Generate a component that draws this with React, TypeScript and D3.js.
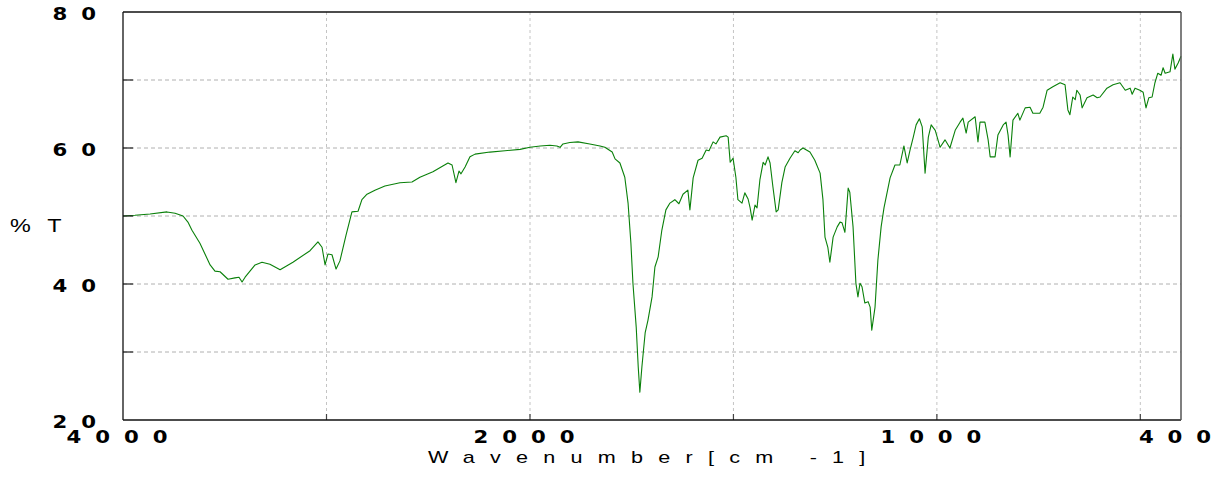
import React from 'react';
import * as d3 from 'd3';

// IR spectrum (wavenumber in cm-1, %T)
const wavenumbers = [
  4000, 3941, 3867, 3784, 3744, 3705, 3681, 3661, 3622, 3572, 3548, 3523, 3484, 3450, 3430, 3415, 3400,
  3351, 3317, 3278, 3228, 3165, 3081, 3042, 3022, 3007, 2993, 2973, 2953, 2934, 2904, 2875, 2845, 2826,
  2801, 2762, 2713, 2639, 2580, 2541, 2477, 2403, 2383, 2364, 2349, 2339, 2319, 2295, 2270, 2197, 2123,
  2049, 2000,
  1975, 1951, 1934, 1926, 1919, 1902, 1882, 1853, 1828, 1816, 1798, 1791, 1779, 1767, 1759, 1752, 1747,
  1739, 1734, 1730, 1725, 1717, 1710, 1700, 1693, 1685, 1676, 1666, 1656, 1644, 1634, 1624, 1612, 1607,
  1599, 1587, 1577, 1567, 1560, 1550, 1543, 1533, 1518, 1513, 1508, 1501, 1494, 1489, 1479, 1472, 1464,
  1459, 1454, 1447, 1442, 1435, 1427, 1422, 1415, 1410, 1403, 1395, 1390, 1381, 1373, 1361, 1349, 1341,
  1336, 1329, 1312, 1300, 1287, 1280, 1275, 1268, 1263, 1255, 1245, 1238, 1233, 1226, 1218, 1214, 1206,
  1199, 1194, 1189, 1184, 1177, 1169, 1164, 1160, 1152, 1145, 1137, 1130, 1115, 1103, 1091, 1081, 1073,
  1066, 1058, 1051, 1043, 1036, 1029, 1021, 1014, 1004, 992, 980, 968, 955, 943, 936, 928, 923, 906, 899,
  894, 882, 874, 869, 857, 850, 837, 830, 825, 820, 813, 801, 796, 783, 771, 764, 747, 739, 729, 715, 697,
  685, 678, 673, 666, 660, 656, 648, 643, 631, 616, 606, 599, 582, 567, 550, 537, 525, 520, 513, 501, 493,
  486, 479, 471, 464, 457, 449, 444, 439, 427, 420, 415, 407, 400,
];
const transmittance = [
  50.0, 50.1, 50.3, 50.6, 50.4, 50.0, 49.1, 47.9, 46.0, 42.8, 41.9, 41.8, 40.7, 40.9, 41.0, 40.3, 41.0,
  42.8, 43.2, 42.9, 42.1, 43.2, 44.9, 46.2, 45.4, 42.8, 44.4, 44.3, 42.2, 43.4, 47.2, 50.6, 50.7, 52.4,
  53.2, 53.8, 54.4, 54.9, 55.0, 55.7, 56.5, 57.8, 57.5, 54.9, 56.6, 56.2, 57.2, 58.7, 59.1, 59.4, 59.6,
  59.8, 60.1,
  60.3, 60.4, 60.3, 60.1, 60.6, 60.8, 60.9, 60.6, 60.3, 60.1, 59.4, 58.4, 57.8, 55.7, 51.9, 46.0, 40.1,
  33.7, 27.8, 24.1, 27.8, 32.8, 34.7, 38.1, 42.5, 44.0, 47.9, 50.9, 51.9, 52.4, 51.8, 53.2, 53.8, 50.9,
  55.6, 58.2, 58.5, 59.7, 59.6, 60.9, 60.6, 61.6, 61.8, 61.6, 57.9, 58.5, 55.7, 52.4, 51.9, 53.4, 52.5,
  51.2, 49.4, 51.6, 51.2, 55.3, 57.9, 57.5, 58.7, 57.8, 54.3, 50.6, 50.9, 54.9, 57.2, 58.5, 59.6, 59.3,
  59.7, 60.0, 59.4, 58.2, 56.3, 52.4, 46.9, 45.4, 43.2, 46.9, 48.4, 49.1, 49.0, 47.6, 54.1, 53.5, 48.4,
  40.1, 38.1, 40.1, 39.6, 37.2, 37.4, 36.6, 33.2, 36.6, 43.5, 48.4, 51.2, 55.6, 57.5, 57.5, 60.3, 57.8,
  59.7, 61.6, 63.4, 64.3, 63.1, 56.3, 61.6, 63.4, 62.6, 60.1, 61.2, 60.0, 62.6, 63.8, 64.4, 62.2, 63.8, 64.6, 60.9,
  63.8, 63.8, 61.2, 58.7, 58.7, 61.9, 63.4, 63.8, 61.9, 58.7, 64.1, 65.1, 64.1, 65.9, 66.0, 65.1, 65.1, 66.0, 68.5, 69.0, 69.6,
  69.3, 65.6, 64.9, 67.5, 67.1, 68.5, 67.8, 65.9, 67.4, 67.8, 67.4, 67.5, 68.8, 69.3, 69.6, 68.5, 68.8, 67.9, 68.8, 68.5, 68.2,
  65.9, 67.4, 67.5, 69.6, 71.0, 70.7, 71.8, 71.0, 71.2, 73.8, 71.6, 72.5, 73.5,
];

const xTickLabels = [4000, 2000, 1000, 400];
const xGridValues = [3000, 2000, 1500, 1000, 500];
const yTickLabels = [80, 60, 40, 20];
const yGridValues = [70, 60, 50, 40, 30];
const xTitle = 'Wavenumber[cm -1]';
const yTitle = '% T';

const labelFont = "'DejaVu Sans', Verdana, sans-serif";
const titleFont = "'Liberation Sans', Arial, sans-serif";
const PITCH = 28.7;

// spaced bold digits, each glyph centred on its own cell
function SpacedLabel({ text, x0, y }: { text: string; x0: number; y: number }) {
  return (
    <g>
      {text.split('').map((ch, i) => (
        <text
          key={i}
          transform={`translate(${x0 + i * PITCH},${y}) scale(1.25,1)`}
          textAnchor="middle"
          fontFamily={labelFont}
          fontWeight="bold"
          fontSize={17}
          fill="#000"
        >
          {ch}
        </text>
      ))}
    </g>
  );
}

export default function App() {
  const W = 1217;
  const H = 478;
  const left = 123, right = 1181, top = 12, bottom = 420;

  // split (expanded below 2000 cm-1) wavenumber axis
  const x = d3.scaleLinear().domain([4000, 2000, 400]).range([left, 530, right]);
  const y = d3.scaleLinear().domain([20, 80]).range([bottom, top]);

  const points: [number, number][] = wavenumbers.map((w, i) => [w, transmittance[i]]);
  const line = d3
    .line<[number, number]>()
    .x((d) => x(d[0]))
    .y((d) => y(d[1]))
    .curve(d3.curveLinear);

  return (
    <svg
      width={W}
      height={H}
      style={{ position: 'absolute', left: 0, top: 0, display: 'block', background: '#fff' }}
    >
      {/* grid */}
      {xGridValues.map((v) => (
        <line key={'gx' + v} x1={x(v)} x2={x(v)} y1={top} y2={bottom} stroke="#c4c4c4" strokeWidth={1} strokeDasharray="3,3" />
      ))}
      {yGridValues.map((v) => (
        <line key={'gy' + v} x1={left} x2={right} y1={y(v)} y2={y(v)} stroke="#b0b0b0" strokeWidth={1} strokeDasharray="4,3" />
      ))}

      {/* spectrum */}
      <path d={line(points) || ''} fill="none" stroke="#0a800a" strokeWidth={1.1} strokeLinejoin="round" />

      {/* ticks */}
      {yGridValues.map((v) => (
        <line key={'ty' + v} x1={left} x2={left + 10} y1={y(v)} y2={y(v)} stroke="#222" strokeWidth={1.2} />
      ))}
      {xGridValues.map((v) => (
        <line key={'tx' + v} x1={x(v)} x2={x(v)} y1={bottom} y2={bottom - 6} stroke="#444" strokeWidth={1.2} />
      ))}

      {/* frame */}
      <line x1={left} x2={right} y1={top} y2={top} stroke="#111" strokeWidth={1.3} />
      <line x1={left} x2={left} y1={top} y2={bottom} stroke="#111" strokeWidth={1.3} />
      <line x1={left} x2={right} y1={bottom} y2={bottom} stroke="#111" strokeWidth={1.3} />
      <line x1={right} x2={right} y1={top} y2={bottom} stroke="#555" strokeWidth={1.5} />

      {/* y tick labels */}
      {yTickLabels.map((v) => (
        <SpacedLabel key={'ly' + v} text={String(v)} x0={60} y={y(v) + 8} />
      ))}

      {/* x tick labels */}
      {xTickLabels.map((v) => {
        const s = String(v);
        const x0 = x(v) - ((s.length - 1) / 2) * PITCH - 6;
        return <SpacedLabel key={'lx' + v} text={s} x0={x0} y={443} />;
      })}

      {/* titles */}
      <text
        transform="translate(428,463) scale(1.27,1)"
        fontFamily={titleFont}
        fontSize={17}
        letterSpacing={12}
        fill="#000"
      >
        {xTitle}
      </text>
      <text
        transform="translate(10,232) scale(1.3,1)"
        fontFamily={titleFont}
        fontSize={18}
        letterSpacing={4}
        fill="#000"
      >
        {yTitle}
      </text>
    </svg>
  );
}
